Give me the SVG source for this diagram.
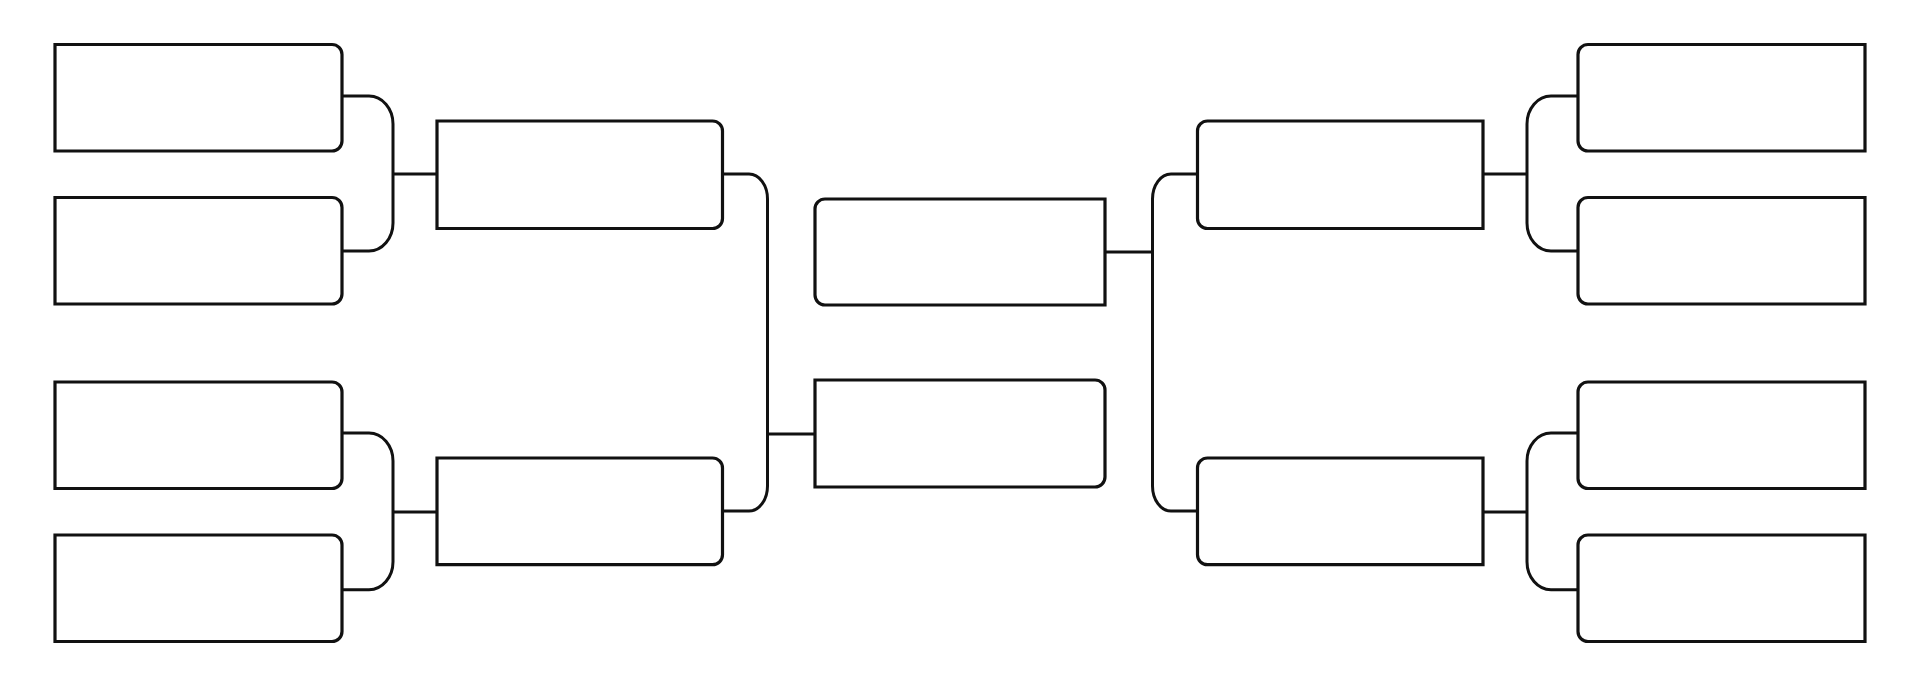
<svg xmlns="http://www.w3.org/2000/svg" width="1920" height="686" viewBox="0 0 1920 686">
<style>
.box{fill:#fff;stroke:#111;stroke-width:3.2;stroke-linejoin:miter}
.con{fill:none;stroke:#111;stroke-width:3}
</style>
<rect width="1920" height="686" fill="#fff"/>
<g id="connectors">
<path class="con" d="M342.5 96 H369 A24 28 0 0 1 393 124 V223 A24 28 0 0 1 369 251 H342.5 M393 174 H437"/>
<path class="con" d="M342.5 433 H369 A24 28 0 0 1 393 461 V561.7 A24 28 0 0 1 369 589.7 H342.5 M393 512 H437"/>
<path class="con" d="M722.5 174 H749 A18.5 25 0 0 1 767.5 199 V486 A18.5 25 0 0 1 749 511 H722.5 M767.5 434 H815"/>
<path class="con" d="M1197.5 174 H1171 A18.5 25 0 0 0 1152.5 199 V486 A18.5 25 0 0 0 1171 511 H1197.5 M1152.5 252 H1105"/>
<path class="con" d="M1577.5 96 H1551 A24 28 0 0 0 1527 124 V223 A24 28 0 0 0 1551 251 H1577.5 M1527 174 H1483"/>
<path class="con" d="M1577.5 433 H1551 A24 28 0 0 0 1527 461 V561.7 A24 28 0 0 0 1551 589.7 H1577.5 M1527 512 H1483"/>
</g>
<g id="L1a"><path class="box" d="M55 44.5 H332 A10 10 0 0 1 342 54.5 V141 A10 10 0 0 1 332 151 H55 Z"/></g>
<g id="L1b"><path class="box" d="M55 197.5 H332 A10 10 0 0 1 342 207.5 V294 A10 10 0 0 1 332 304 H55 Z"/></g>
<g id="L1c"><path class="box" d="M55 382 H332 A10 10 0 0 1 342 392 V478.5 A10 10 0 0 1 332 488.5 H55 Z"/></g>
<g id="L1d"><path class="box" d="M55 535 H332 A10 10 0 0 1 342 545 V631.5 A10 10 0 0 1 332 641.5 H55 Z"/></g>
<g id="L2a"><path class="box" d="M437 121 H712.5 A10 10 0 0 1 722.5 131 V218.5 A10 10 0 0 1 712.5 228.5 H437 Z"/></g>
<g id="L2b"><path class="box" d="M437 458 H712.5 A10 10 0 0 1 722.5 468 V554.7 A10 10 0 0 1 712.5 564.7 H437 Z"/></g>
<g id="C1"><path class="box" d="M1105 199 H825 A10 10 0 0 0 815 209 V295 A10 10 0 0 0 825 305 H1105 Z"/></g>
<g id="C2"><path class="box" d="M815 380 H1095 A10 10 0 0 1 1105 390 V477 A10 10 0 0 1 1095 487 H815 Z"/></g>
<g id="R2a"><path class="box" d="M1483 121 H1207.5 A10 10 0 0 0 1197.5 131 V218.5 A10 10 0 0 0 1207.5 228.5 H1483 Z"/></g>
<g id="R2b"><path class="box" d="M1483 458 H1207.5 A10 10 0 0 0 1197.5 468 V554.7 A10 10 0 0 0 1207.5 564.7 H1483 Z"/></g>
<g id="R1a"><path class="box" d="M1865 44.5 H1588 A10 10 0 0 0 1578 54.5 V141 A10 10 0 0 0 1588 151 H1865 Z"/></g>
<g id="R1b"><path class="box" d="M1865 197.5 H1588 A10 10 0 0 0 1578 207.5 V294 A10 10 0 0 0 1588 304 H1865 Z"/></g>
<g id="R1c"><path class="box" d="M1865 382 H1588 A10 10 0 0 0 1578 392 V478.5 A10 10 0 0 0 1588 488.5 H1865 Z"/></g>
<g id="R1d"><path class="box" d="M1865 535 H1588 A10 10 0 0 0 1578 545 V631.5 A10 10 0 0 0 1588 641.5 H1865 Z"/></g>
</svg>
